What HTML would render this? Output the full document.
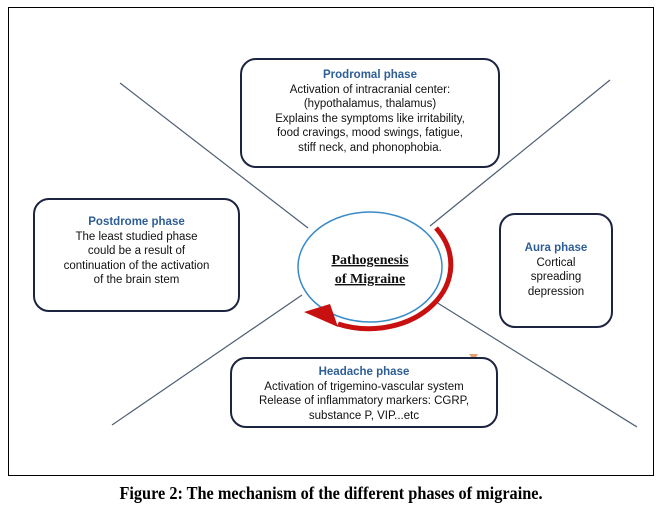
<!DOCTYPE html>
<html><head><meta charset="utf-8"><style>
body{margin:0;background:#fff;width:662px;height:518px;overflow:hidden;position:relative;font-family:"Liberation Sans",sans-serif}
.frame{position:absolute;left:8px;top:7px;width:644px;height:467px;border:1.5px solid #000}
.box{position:absolute;border:2.5px solid #1c2440;border-radius:16px;background:#fff;text-align:center;font-size:11.5px;line-height:14.5px;color:#111;box-sizing:border-box}
.t{color:#2e5e96;font-weight:bold}
.cap{position:absolute;left:0;width:662px;top:483px;text-align:center;font-family:"Liberation Serif",serif;font-weight:bold;font-size:17.5px;transform:scaleX(0.93)}
</style></head><body>
<div class="frame"></div>
<svg width="662" height="518" style="position:absolute;left:0;top:0">
<g stroke="#4f5f74" stroke-width="1.2">
<line x1="120" y1="83" x2="308" y2="228"/>
<line x1="610" y1="80" x2="430" y2="226"/>
<line x1="112" y1="425" x2="302" y2="295"/>
<line x1="436" y1="302" x2="637" y2="427"/>
</g>
<ellipse cx="370" cy="267" rx="72" ry="55" fill="#fff" stroke="#3a8ac8" stroke-width="1.5"/>
<path d="M436 228 A82 64 0 0 1 338 324" fill="none" stroke="#c81010" stroke-width="5"/>
<polygon points="304,312 330,304 338,327" fill="#c81010"/>
<polygon points="469,354 478,354 474,361" fill="#e8a070"/>
<text x="370" y="264" text-anchor="middle" font-family="Liberation Serif,serif" font-weight="bold" font-size="14" text-decoration="underline" fill="#111">Pathogenesis</text>
<text x="370" y="283" text-anchor="middle" font-family="Liberation Serif,serif" font-weight="bold" font-size="14" text-decoration="underline" fill="#111">of Migraine</text>
</svg>
<div class="box" style="left:240px;top:58px;width:260px;height:110px;padding-top:8px"><span class="t">Prodromal phase</span><br>Activation of intracranial center:<br>(hypothalamus, thalamus)<br>Explains the symptoms like irritability,<br>food cravings, mood swings, fatigue,<br>stiff neck, and phonophobia.</div>
<div class="box" style="left:33px;top:198px;width:207px;height:114px;padding-top:15px"><span class="t">Postdrome phase</span><br>The least studied phase<br>could be a result of<br>continuation of the activation<br>of the brain stem</div>
<div class="box" style="left:499px;top:213px;width:114px;height:115px;padding-top:26px"><span class="t">Aura phase</span><br>Cortical<br>spreading<br>depression</div>
<div class="box" style="left:230px;top:357px;width:268px;height:71px;padding-top:6px"><span class="t">Headache phase</span><br>Activation of trigemino-vascular system<br>Release of inflammatory markers: CGRP,<br>substance P, VIP...etc</div>
<div class="cap">Figure 2: The mechanism of the different phases of migraine.</div>
</body></html>
